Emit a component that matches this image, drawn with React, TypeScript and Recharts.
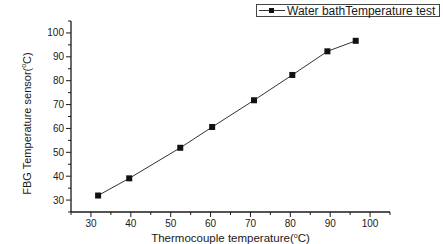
import { LineChart, Line, XAxis, YAxis } from "recharts";

const thermocouple = [31.8, 39.6, 52.4, 60.4, 70.9, 80.5, 89.3, 96.4];
const fbgSensor = [31.9, 39.1, 51.9, 60.6, 71.8, 82.4, 92.3, 96.7];
const axisTicks = [25, 30, 35, 40, 45, 50, 55, 60, 65, 70, 75, 80, 85, 90, 95, 100, 105];
const seriesName = "Water bathTemperature test";

const data = thermocouple.map((x, i) => ({ x, y: fbgSensor[i] }));

const FONT = '"Liberation Sans", Arial, sans-serif';
const INK = "#1a1a1a";

const XTick = ({ x, y, payload }: any) => {
  const major = payload.value % 10 === 0;
  return (
    <g>
      <line x1={x} y1={y} x2={x} y2={y + (major ? 5 : 3)} stroke={INK} strokeWidth={1} />
      {major && (
        <text x={x} y={y + 14.5} textAnchor="middle" fontSize={10} fontFamily={FONT} fill={INK}>
          {payload.value}
        </text>
      )}
    </g>
  );
};

const YTick = ({ x, y, payload }: any) => {
  const major = payload.value % 10 === 0;
  return (
    <g>
      <line x1={x} y1={y} x2={x - (major ? 5 : 3)} y2={y} stroke={INK} strokeWidth={1} />
      {major && (
        <text x={x - 7} y={y + 3.5} textAnchor="end" fontSize={10} fontFamily={FONT} fill={INK}>
          {payload.value}
        </text>
      )}
    </g>
  );
};

const SquareDot = ({ cx, cy, index }: any) => (
  <rect key={index} x={cx - 3} y={cy - 3} width={6} height={6} fill="#111" />
);

const XTitle = ({ viewBox }: any) => {
  const cx = viewBox.x + viewBox.width / 2;
  return (
    <text x={cx} y={242} textAnchor="middle" fontSize={11.5} fontFamily={FONT} fill={INK}>
      Thermocouple temperature(
      <tspan dy={-4} fontSize={7}>o</tspan>
      <tspan dy={4}>C)</tspan>
    </text>
  );
};

const YTitle = ({ viewBox }: any) => {
  const cx = 27;
  const cy = viewBox.y + viewBox.height / 2 + 7;
  return (
    <text
      x={cx}
      y={cy}
      transform={`rotate(-90, ${cx}, ${cy})`}
      textAnchor="middle"
      dominantBaseline="central"
      fontSize={11}
      fontFamily={FONT}
      fill={INK}
    >
      FBG Temperature sensor(
      <tspan dy={-4} fontSize={7}>o</tspan>
      <tspan dy={4}>C)</tspan>
    </text>
  );
};

export default function App() {
  return (
    <div style={{ position: "absolute", left: 0, top: 0, width: 443, height: 244, background: "#fff" }}>
      <LineChart width={443} height={244} data={data} margin={{ top: 21, right: 53, bottom: 0, left: 0 }}>
        <XAxis
          type="number"
          dataKey="x"
          domain={[25, 105]}
          ticks={axisTicks}
          interval={0}
          height={32}
          tickSize={0}
          tickMargin={0}
          tick={<XTick />}
          stroke={INK}
          strokeWidth={1.3}
          label={{ content: <XTitle /> }}
        />
        <YAxis
          type="number"
          dataKey="y"
          domain={[25, 105]}
          ticks={axisTicks}
          interval={0}
          width={71}
          tickSize={0}
          tickMargin={0}
          tick={<YTick />}
          stroke={INK}
          strokeWidth={1.3}
          label={{ content: <YTitle /> }}
        />
        <Line
          dataKey="y"
          name={seriesName}
          stroke="#333"
          strokeWidth={1}
          dot={<SquareDot />}
          isAnimationActive={false}
        />
      </LineChart>
      <div
        style={{
          position: "absolute",
          left: 256,
          top: 4,
          width: 184,
          height: 13,
          border: "1px solid #444",
          boxSizing: "border-box",
          display: "flex",
          alignItems: "center",
          fontFamily: FONT,
          fontSize: 12,
          color: INK,
          whiteSpace: "nowrap",
        }}
      >
        <svg width={30} height={11} style={{ flex: "none" }}>
          <line x1={2} y1={5.5} x2={28} y2={5.5} stroke="#333" strokeWidth={1} />
          <rect x={12} y={3} width={5} height={5} fill="#111" />
        </svg>
        <span>{seriesName}</span>
      </div>
    </div>
  );
}
